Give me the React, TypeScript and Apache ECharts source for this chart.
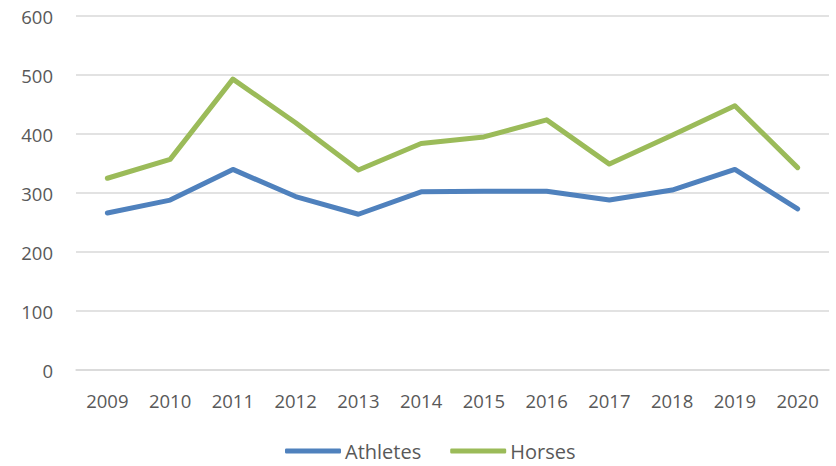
import React, { useEffect, useRef } from "react";
import * as echarts from "echarts";

const years = ["2009", "2010", "2011", "2012", "2013", "2014", "2015", "2016", "2017", "2018", "2019", "2020"];
const athletes = [266, 288, 340, 294, 264, 302, 303, 303, 288, 305, 340, 273];
const horses = [325, 357, 493, 419, 339, 384, 395, 424, 349, 398, 448, 343];

const FONT = "Open Sans";
const TEXT = "#595959";

export default function App() {
  const ref = useRef<HTMLDivElement>(null);
  useEffect(() => {
    if (!ref.current) return;
    const chart = echarts.init(ref.current, undefined, { renderer: "svg" });
    chart.setOption({
      animation: false,
      backgroundColor: "#ffffff",
      grid: { left: 76, right: 7, top: 16, bottom: 96, containLabel: false },
      legend: {
        left: 280,
        top: 436,
        itemWidth: 56,
        itemHeight: 5,
        itemGap: 29,
        icon: "roundRect",
        textStyle: { fontFamily: FONT, fontSize: 20, color: TEXT, padding: [0, 0, 0, -1] },
        data: ["Athletes", "Horses"],
      },
      xAxis: {
        type: "category",
        data: years,
        boundaryGap: true,
        axisLine: { show: true, lineStyle: { color: "#d9d9d9", width: 1.5 } },
        axisTick: { show: false },
        axisLabel: { fontFamily: FONT, fontSize: 18.5, color: TEXT, margin: 21 },
      },
      yAxis: {
        type: "value",
        min: 0,
        max: 600,
        interval: 100,
        axisLine: { show: false },
        axisTick: { show: false },
        axisLabel: { fontFamily: FONT, fontSize: 18.5, color: TEXT, margin: 23 },
        splitLine: { lineStyle: { color: "#d9d9d9", width: 1.5 } },
      },
      series: [
        {
          name: "Athletes",
          type: "line",
          data: athletes,
          symbol: "none",
          color: "#4F81BD",
          lineStyle: { width: 5, color: "#4F81BD", cap: "round", join: "round" },
        },
        {
          name: "Horses",
          type: "line",
          data: horses,
          symbol: "none",
          color: "#9BBB59",
          lineStyle: { width: 5, color: "#9BBB59", cap: "round", join: "round" },
        },
      ],
    });
    return () => chart.dispose();
  }, []);
  return <div ref={ref} style={{ width: 836, height: 466, position: "absolute", left: 0, top: 0 }} />;
}
